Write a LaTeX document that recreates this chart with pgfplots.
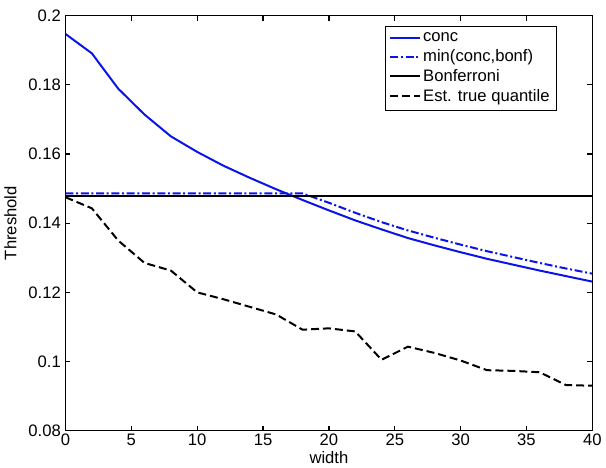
\documentclass[border=0pt]{standalone}
\usepackage{pgfplots}
\pgfplotsset{compat=1.18}
\usepackage{fontspec}
\setmainfont{Liberation Sans}
\definecolor{mblue}{RGB}{10,20,230}
\begin{document}
\begin{tikzpicture}
\begin{axis}[
  scale only axis,
  width=396pt, height=312pt,
  xmin=0, xmax=40, ymin=0.08, ymax=0.2,
  xtick={0,5,...,40},
  ytick={0.08,0.1,0.12,0.14,0.16,0.18,0.2},
  yticklabels={0.08,0.1,0.12,0.14,0.16,0.18,0.2},
  xticklabels={0,5,10,15,20,25,30,35,40},
  tick align=inside,
  major tick length=3.75pt,
  tick style={line width=0.9pt,black},
  axis line style={line width=1.1pt},
  ticklabel style={font=\fontsize{12.5}{14}\selectfont},
  xticklabel style={yshift=1pt},
  label style={font=\fontsize{12.5}{14}\selectfont},
  xlabel={width},
  ylabel={Threshold},
  xlabel style={yshift=3pt},
  ylabel style={yshift=2pt},
  legend style={at={(0.932,0.975)}, anchor=north east, draw=black, line width=0.5pt,
    font=\fontsize{12.5}{14}\selectfont, row sep=0.3pt, inner sep=3pt},
  legend cell align=left,
  legend image code/.code={\draw[#1] (0cm,0cm) -- (22pt,0cm);},
]
\addplot[mblue, line width=1.5pt] coordinates {
(0,0.1947) (2,0.1891) (4,0.1789) (6,0.1714) (8,0.1651) (10,0.1606) (12,0.1566) (14,0.1531) (16,0.1498) (18,0.1467) (20,0.1437) (22,0.1408) (24,0.1382) (26,0.1357) (28,0.1336) (30,0.1316) (32,0.1297) (34,0.1280) (36,0.1263) (38,0.1247) (40,0.1231)};
\addlegendentry{conc}
\addplot[mblue, line width=1.5pt, dash pattern=on 6pt off 2pt on 1.5pt off 2pt] coordinates {
(0,0.1486) (18,0.1486) (20,0.1459) (22,0.1430) (24,0.1403) (26,0.1379) (28,0.1358) (30,0.1338) (32,0.1319) (34,0.1302) (36,0.1285) (38,0.1269) (40,0.1254)};
\addlegendentry{min(conc,bonf)}
\addplot[black, line width=1.5pt] coordinates {(0,0.1479) (40,0.1479)};
\addlegendentry{Bonferroni}
\addplot[black, line width=1.5pt, dash pattern=on 6pt off 3pt] coordinates {
(0,0.1475) (2,0.1443) (4,0.1350) (6,0.1285) (8,0.1263) (10,0.1200) (12,0.1180) (14,0.1158) (16,0.1136) (18,0.1092) (20,0.1096) (22,0.1087) (24,0.1005) (26,0.1043) (28,0.1025) (30,0.1003) (32,0.0975) (34,0.0973) (36,0.0969) (38,0.0932) (40,0.0930)};
\addlegendentry{Est. true quantile}
\end{axis}
\path ([yshift=4pt]current bounding box.north);
\end{tikzpicture}
\end{document}
